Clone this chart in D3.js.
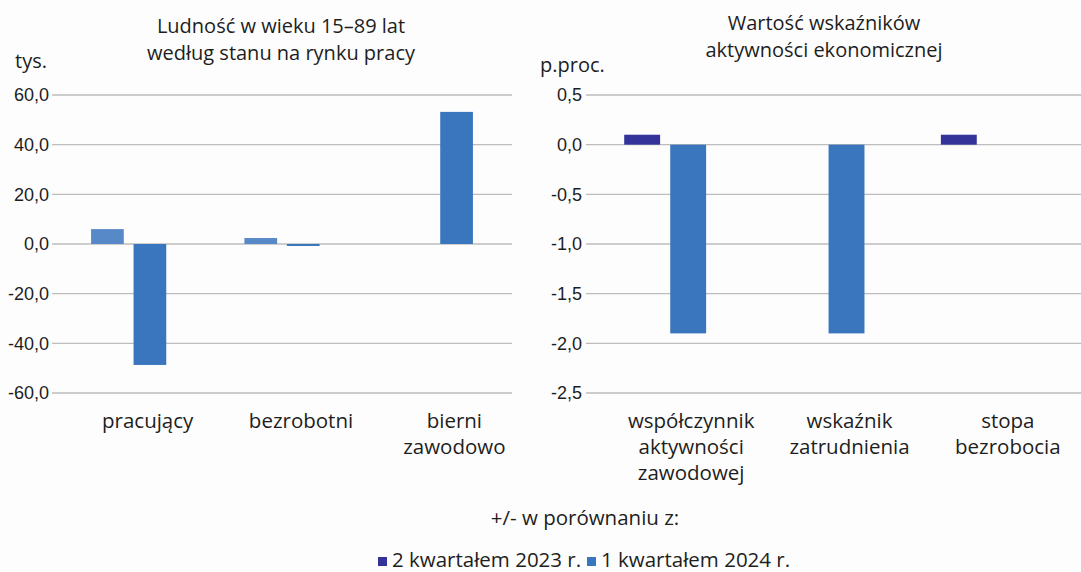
<!DOCTYPE html>
<html>
<head>
<meta charset="utf-8">
<script src="https://cdn.jsdelivr.net/npm/d3@7"></script>
<style>
  html, body { margin: 0; padding: 0; background: #fdfdfd; }
  svg { display: block; font-family: "Open Sans", "Noto Sans", sans-serif; }
</style>
</head>
<body>
<svg id="chart" width="1081" height="572"></svg>
<script>
// ---------- data ----------
const seriesNames = ["2 kwartałem 2023 r.", "1 kwartałem 2024 r."];

const leftCategories = [["pracujący"], ["bezrobotni"], ["bierni", "zawodowo"]];
const leftSeries1 = [6.0, 2.4, 0.0];
const leftSeries2 = [-48.7, -0.8, 53.2];
const leftTicks = [60, 40, 20, 0, -20, -40, -60];

const rightCategories = [["współczynnik", "aktywności", "zawodowej"], ["wskaźnik", "zatrudnienia"], ["stopa", "bezrobocia"]];
const rightSeries1 = [0.1, 0.0, 0.1];
const rightSeries2 = [-1.9, -1.9, 0.0];
const rightTicks = [0.5, 0, -0.5, -1.0, -1.5, -2.0, -2.5];

const leftColors = ["#5789c8", "#3a76bd"];
const rightColors = ["#333399", "#3a76bd"];
const legendColors = ["#333399", "#3a76bd"];

const svg = d3.select("#chart");
const textColor = "#1e1e1e";
const fmt1 = d => d3.format(".1f")(d).replace(".", ",").replace("−", "-");

function drawPanel(opts) {
  const { cats, s1, s2, ticks, colors, xRange, gridEnd, yDomain, tickX, unit, unitPos, title, titleX, titleY, pIn, pOut, labelOffset, labelLH } = opts;
  const g = svg.append("g");
  const keys = cats.map(c => c.join(" "));
  const y = d3.scaleLinear().domain(yDomain).range([393, 95]);
  const x0 = d3.scaleBand().domain(keys).range(xRange).padding(0);
  const x1 = d3.scaleBand().domain([0, 1]).range([0, x0.bandwidth()]).paddingInner(pIn).paddingOuter(pOut);

  // gridlines
  g.append("g").selectAll("line").data(ticks).join("line")
    .attr("x1", xRange[0]).attr("x2", gridEnd)
    .attr("y1", d => y(d)).attr("y2", d => y(d))
    .attr("stroke", "#bdbdbd").attr("stroke-width", 1.3);

  // y-axis tick labels
  const yAxis = d3.axisLeft(y).tickValues(ticks).tickSize(0).tickPadding(0).tickFormat(fmt1);
  const ya = g.append("g").attr("transform", `translate(${tickX},0)`).call(yAxis);
  ya.select(".domain").remove();
  ya.selectAll("text").attr("font-size", 18).attr("fill", textColor).attr("font-family", null);

  // bars
  const rows = keys.map((k, i) => ({ k, v: [s1[i], s2[i]] }));
  const grp = g.append("g").selectAll("g").data(rows).join("g")
    .attr("transform", d => `translate(${x0(d.k)},0)`);
  grp.selectAll("rect").data(d => d.v.map((v, j) => ({ v, j }))).join("rect")
    .attr("x", d => x1(d.j)).attr("width", x1.bandwidth())
    .attr("y", d => y(Math.max(0, d.v)))
    .attr("height", d => Math.abs(y(d.v) - y(0)))
    .attr("fill", d => colors[d.j]);

  // category labels
  const lab = g.append("g").selectAll("text").data(cats).join("text")
    .attr("text-anchor", "middle").attr("font-size", 20.5).attr("fill", textColor)
    .attr("transform", (d, i) => `translate(${x0(keys[i]) + x0.bandwidth() / 2 + labelOffset},428)`);
  lab.selectAll("tspan").data(d => d).join("tspan")
    .attr("x", 0).attr("y", (d, i) => i * labelLH).text(d => d);

  // unit
  g.append("text").attr("x", unitPos[0]).attr("y", unitPos[1]).attr("font-size", 20)
    .attr("fill", textColor).text(unit);

  // title
  const t = g.append("text").attr("text-anchor", "middle").attr("font-size", 20).attr("fill", textColor);
  t.selectAll("tspan").data(title).join("tspan")
    .attr("x", titleX).attr("y", (d, i) => titleY + i * 27).text(d => d);
}

drawPanel({
  cats: leftCategories, s1: leftSeries1, s2: leftSeries2, ticks: leftTicks, colors: leftColors,
  xRange: [52, 512], gridEnd: 512, yDomain: [-60, 60], tickX: 49,
  unit: "tys.", unitPos: [15, 68],
  title: ["Ludność w wieku 15–89 lat", "według stanu na rynku pracy"], titleX: 281, titleY: 33,
  pIn: 0.23, pOut: 0.92, labelOffset: 19, labelLH: 26
});

drawPanel({
  cats: rightCategories, s1: rightSeries1, s2: rightSeries2, ticks: rightTicks, colors: rightColors,
  xRange: [586, 1061], gridEnd: 1081, yDomain: [-2.5, 0.5], tickX: 582,
  unit: "p.proc.", unitPos: [540, 72],
  title: ["Wartość wskaźników", "aktywności ekonomicznej"], titleX: 824, titleY: 30,
  pIn: 0.22, pOut: 0.83, labelOffset: 26, labelLH: 26
});

// legend
svg.append("text").attr("x", 585).attr("y", 525).attr("text-anchor", "middle")
  .attr("font-size", 20.5).attr("fill", textColor).text("+/- w porównaniu z:");

const legendX = [378, 587];
const lg = svg.append("g").selectAll("g").data(seriesNames).join("g")
  .attr("transform", (d, i) => `translate(${legendX[i]},0)`);
lg.append("rect").attr("x", 0).attr("y", 557).attr("width", 9).attr("height", 9)
  .attr("fill", (d, i) => legendColors[i]);
lg.append("text").attr("x", 14).attr("y", 567).attr("font-size", 20.5).attr("fill", textColor).text(d => d);
</script>
</body>
</html>
